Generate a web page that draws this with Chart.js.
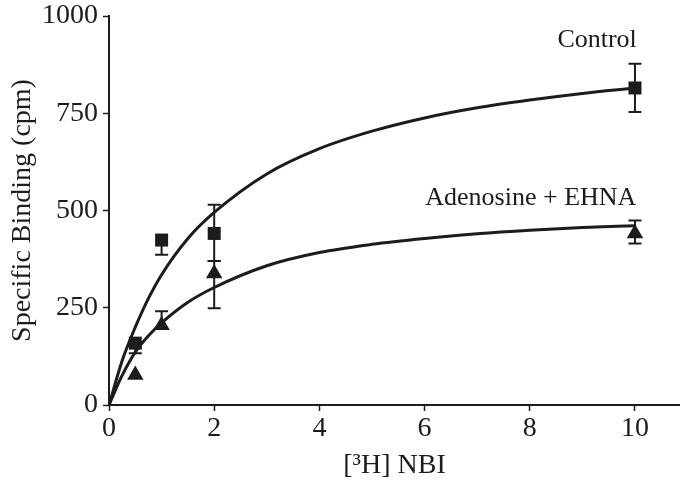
<!DOCTYPE html>
<html>
<head>
<meta charset="utf-8">
<script src="https://cdn.jsdelivr.net/npm/chart.js@4/dist/chart.umd.min.js"></script>
<style>
  html, body { margin: 0; padding: 0; background: #fff; }
  #wrap { width: 680px; height: 482px; }
</style>
</head>
<body>
<div id="wrap"><canvas id="myChart"></canvas></div>
<script>
const controlX = [0.5, 1, 2, 10];
const controlY = [159, 424, 441, 815];
const controlLow = [133, 386, 370, 753];
const controlHigh = [159, 424, 515, 877];

const adenoX = [0.5, 1, 2, 10];
const adenoY = [77, 205, 338, 441];
const adenoLow = [77, 205, 249, 415];
const adenoHigh = [77, 241, 370, 474];

// fitted curves
const curveX = [0, 0.25, 0.5, 0.75, 1, 1.5, 2, 3, 4, 5, 6, 7, 8, 9, 10];
const controlCurve = [0, 114, 200, 274, 335, 428, 495, 594, 659, 704, 738, 764, 784, 801, 815];
const adenoCurve = [0, 76, 136, 178, 211, 264, 302, 358, 392, 413, 428, 440, 449, 456, 461];

const yTicks = [0, 250, 500, 750, 1000];
const xTicks = [0, 2, 4, 6, 8, 10];

const labels = [
  {text: 'Control', x: 9.28, y: 920},
  {text: 'Adenosine + EHNA', x: 8.02, y: 514}
];

const INK = '#1c1c1c';
const SERIF = '"Liberation Serif", "DejaVu Serif", serif';

function pts(xs, ys) {
  return xs.map((x, i) => ({x: x, y: ys[i]}));
}

const errorBars = {
  id: 'errorBars',
  beforeDatasetsDraw(chart) {
    const ctx = chart.ctx;
    const xs = chart.scales.x, ys = chart.scales.y;
    const sets = [
      [controlX, controlY, controlLow, controlHigh],
      [adenoX, adenoY, adenoLow, adenoHigh]
    ];
    ctx.save();
    ctx.strokeStyle = INK;
    ctx.lineWidth = 2;
    sets.forEach(s => {
      s[0].forEach((xv, i) => {
        const px = xs.getPixelForValue(xv);
        const lo = ys.getPixelForValue(s[2][i]);
        const hi = ys.getPixelForValue(s[3][i]);
        ctx.beginPath();
        ctx.moveTo(px, lo);
        ctx.lineTo(px, hi);
        if (s[2][i] !== s[1][i]) { ctx.moveTo(px - 6.5, lo); ctx.lineTo(px + 6.5, lo); }
        if (s[3][i] !== s[1][i]) { ctx.moveTo(px - 6.5, hi); ctx.lineTo(px + 6.5, hi); }
        ctx.stroke();
      });
    });
    ctx.restore();
  },
  afterDraw(chart) {
    const ctx = chart.ctx;
    ctx.save();
    ctx.fillStyle = INK;
    ctx.font = '26px ' + SERIF;
    ctx.textAlign = 'center';
    ctx.textBaseline = 'alphabetic';
    labels.forEach(l => {
      ctx.fillText(l.text, chart.scales.x.getPixelForValue(l.x), chart.scales.y.getPixelForValue(l.y));
    });
    ctx.restore();
  }
};

const ctx = document.getElementById('myChart');
new Chart(ctx, {
  type: 'scatter',
  data: {
    datasets: [
      {
        type: 'line',
        data: pts(curveX, controlCurve),
        borderColor: INK,
        borderWidth: 3,
        pointRadius: 0,
        cubicInterpolationMode: 'monotone',
        fill: false
      },
      {
        type: 'line',
        data: pts(curveX, adenoCurve),
        borderColor: INK,
        borderWidth: 3,
        pointRadius: 0,
        cubicInterpolationMode: 'monotone',
        fill: false
      },
      {
        data: pts(controlX, controlY),
        pointStyle: 'rect',
        pointRadius: 9.2,
        backgroundColor: INK,
        borderWidth: 0
      },
      {
        data: pts(adenoX, adenoY),
        pointStyle: 'triangle',
        pointRadius: 9.5,
        backgroundColor: INK,
        borderWidth: 0
      }
    ]
  },
  options: {
    responsive: true,
    maintainAspectRatio: false,
    animation: false,
    layout: { autoPadding: false, padding: { top: 16, right: 0, bottom: 0, left: 0 } },
    plugins: { legend: { display: false }, tooltip: { enabled: false } },
    scales: {
      x: {
        type: 'linear',
        min: 0,
        max: 10.856,
        afterFit: function(scale) {
          scale.height = 77;
          scale.paddingLeft = 0;
          scale.paddingRight = 0;
        },
        afterBuildTicks: function(scale) { scale.ticks = xTicks.map(v => ({value: v})); },
        ticks: {
          color: INK,
          font: { family: SERIF, size: 28 },
          padding: 1,
          maxRotation: 0,
          includeBounds: false,
          callback: v => String(v)
        },
        grid: { drawOnChartArea: false, drawTicks: true, tickLength: 6, tickWidth: 1.5, color: INK },
        border: { display: true, color: INK, width: 2 },
        title: {
          display: true,
          text: '[³H] NBI',
          color: INK,
          font: { family: SERIF, size: 28 },
          padding: { top: 0, bottom: 0 }
        }
      },
      y: {
        type: 'linear',
        min: 0,
        max: 1000,
        afterFit: function(scale) {
          scale.width = 109;
          scale.paddingTop = 0;
          scale.paddingBottom = 0;
        },
        afterBuildTicks: function(scale) { scale.ticks = yTicks.map(v => ({value: v})); },
        ticks: {
          color: INK,
          font: { family: SERIF, size: 28 },
          padding: 5,
          callback: v => String(v)
        },
        grid: { drawOnChartArea: false, drawTicks: true, tickLength: 6, tickWidth: 1.5, color: INK },
        border: { display: true, color: INK, width: 2 },
        title: {
          display: true,
          text: 'Specific Binding (cpm)',
          color: INK,
          font: { family: SERIF, size: 28 },
          padding: { top: 6, bottom: 0 }
        }
      }
    }
  },
  plugins: [errorBars]
});
</script>
</body>
</html>
